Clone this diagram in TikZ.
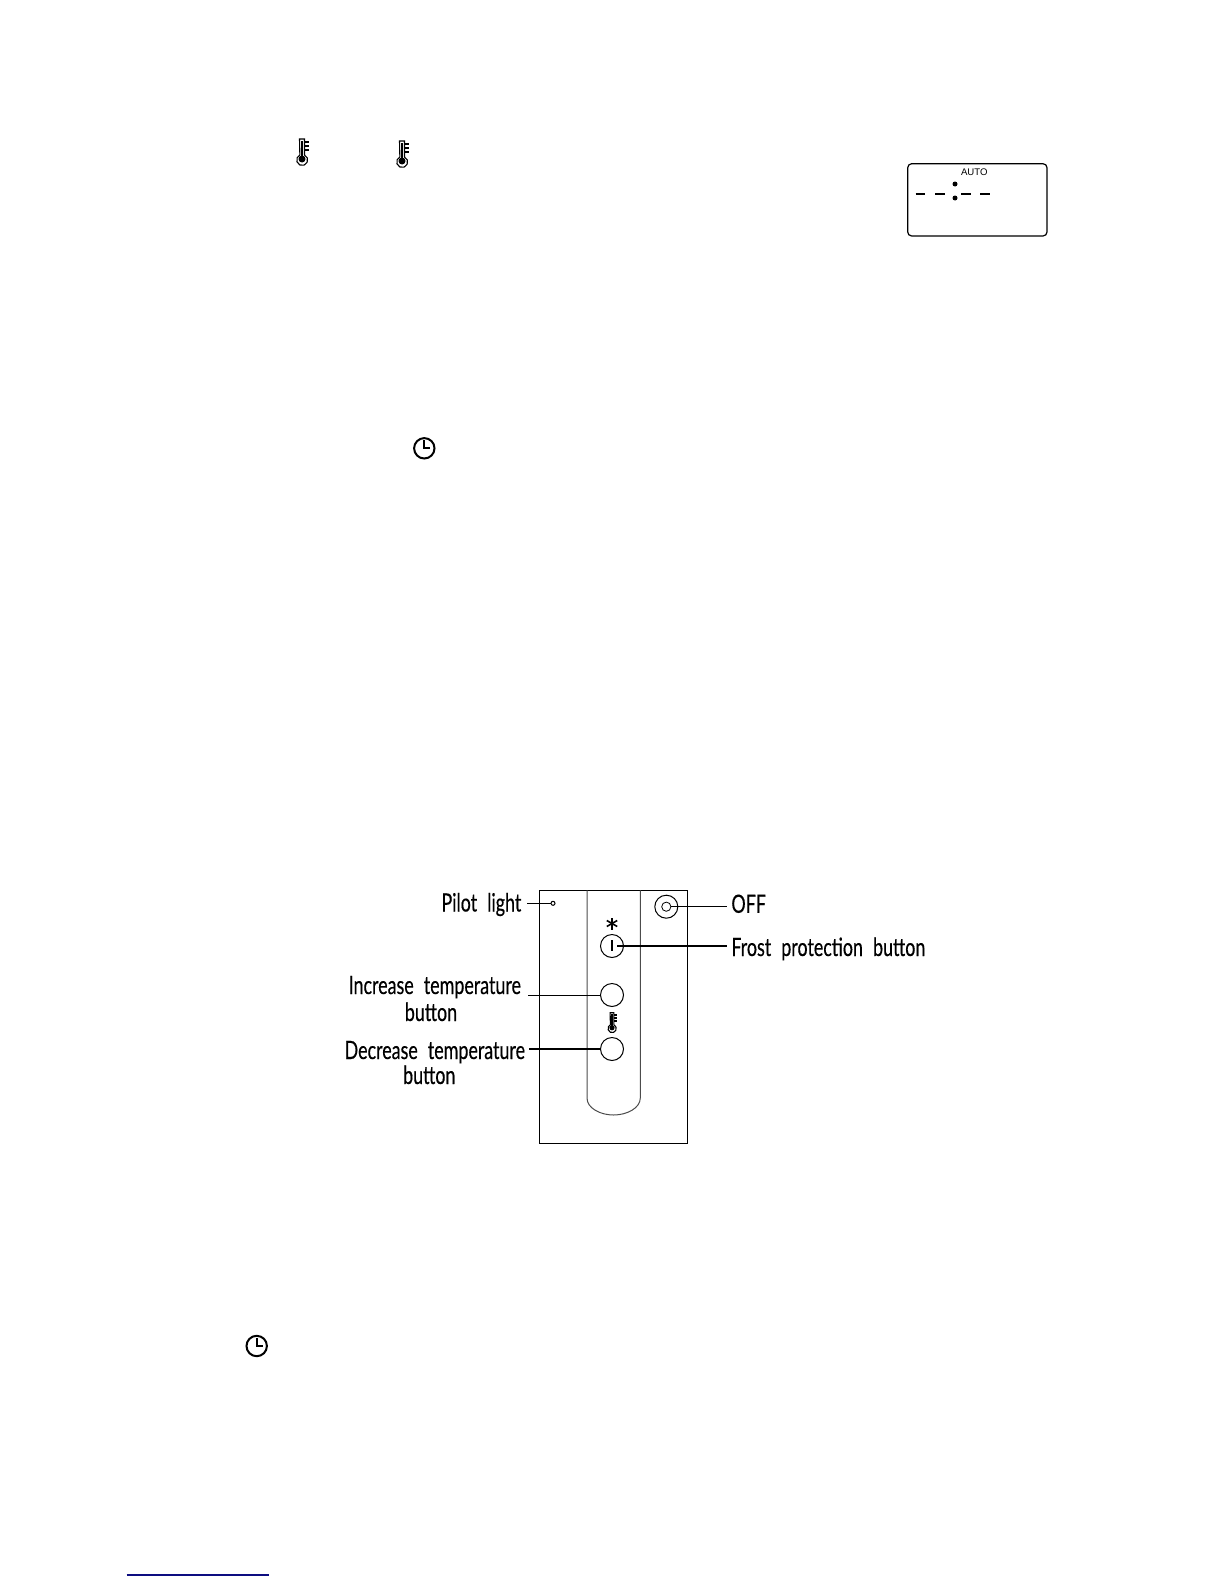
\documentclass[tikz,border=0pt]{standalone}
\usepackage{fontspec}
\setmainfont{Lato}[FakeStretch=0.71,WordSpace=2.2,FakeBold=0.35]
\newfontfamily\autofont{Liberation Sans}
\usepackage{xcolor}
\usepackage{tikz}
\definecolor{linkblue}{rgb}{0.05,0.05,0.5}
\tikzset{
	label text/.style = {inner sep=0pt,font=\fontsize{12.6}{14}\selectfont},
	push button/.style = {draw,circle,inner sep=0pt,minimum size=11.5pt,line width=0.5pt},
	lead/.style = {line width=0.5pt},
	heavy lead/.style = {line width=0.9pt},
	pics/thermo/.style = {
		code = {
			\draw[line width=0.55pt,fill=white] (-2.5,-13) -- (2.5,-13) -- (2.5,3) arc (-65:245:5.5) -- cycle;
			\fill (0,7) circle (3.5);
			\draw[line width=0.7pt] (0,-11) -- (0,5);
			\foreach \tickpos in {-10,-6,-2}
				\draw[line width=0.6pt] (2.5,\tickpos) -- (7,\tickpos);
		}
	},
	pics/clock/.style = {
		code = {
			\draw[line width=1pt] (0,0) circle (10.2);
			\draw[line width=1pt] (0,-8) -- (0,0) -- (6,0);
		}
	}
}

\begin{document}
\begin{tikzpicture}[x=0.5pt,y=-0.5pt]
	\useasboundingbox (0,0) rectangle (1224,1584);

	\pic at (302,152) {thermo};
	\pic at (402,154) {thermo};
	\pic at (424.3,448.3) {clock};
	\pic at (256.7,1346) {clock};

	\draw[line width=0.6pt,rounded corners=2pt] (907.7,163.7) rectangle (1047,236);
	\node[inner sep=0pt,font=\autofont\fontsize{4.8}{5}\selectfont] (auto) at (974.3,172) {AUTO};
	\foreach \dashleft in {915.7,935,961,980}
		\draw[line width=1.4pt] (\dashleft,194) -- ++(9.5,0);
	\fill (955,184) circle (2.5);
	\fill (955,198) circle (2.5);

	\draw[line width=0.5pt] (539.3,890.3) rectangle (687.3,1143.3);
	\draw[line width=0.5pt,black!70] (587,890.3) -- (587,1098) .. controls (587,1108) and (600,1115) .. (613.6,1115) .. controls (627,1115) and (640.3,1108) .. (640.3,1098) -- (640.3,890.3);

	\node[draw,circle,inner sep=0pt,minimum size=2pt,line width=0.5pt] (pilot) at (553,903.3) {};
	\node[push button] (offring) at (666.3,906.7) {};
	\node[draw,circle,inner sep=0pt,minimum size=4.6pt,line width=0.4pt] (off) at (666.3,906.7) {};
	\node[push button] (frost) at (612,946) {};
	\node[push button] (increase) at (612,995) {};
	\node[push button] (decrease) at (612,1049) {};
	\draw[line width=0.8pt] (612,940) -- (612,950.7);
	\foreach \starangle in {30,90,150}
		\draw[line width=0.8pt] (612,923.5) +(\starangle:6) -- +(\starangle+180:6);
	\pic[scale=0.75] at (612,1022.5) {thermo};

	\node[label text,anchor=base east] (pilotlabel) at (521.7,911.5) {Pilot light};
	\node[label text,anchor=base] (increaselabel) at (434.8,994) {Increase temperature};
	\node[label text,anchor=base] (increaselabelb) at (431,1021) {button};
	\node[label text,anchor=base] (decreaselabel) at (434.8,1059) {Decrease temperature};
	\node[label text,anchor=base] (decreaselabelb) at (429.3,1084) {button};
	\node[label text,anchor=base west] (offlabel) at (731,912.8) {OFF};
	\node[label text,anchor=base west] (frostlabel) at (731,956) {Frost protection button};

	\coordinate (pilotend) at (527,903.3);
	\coordinate (increaseend) at (528,995);
	\coordinate (decreaseend) at (529,1049);
	\coordinate (offend) at (726.7,906.7);
	\coordinate (frostend) at (726.7,946);
	\coordinate (frostin) at (616.7,946);
	\draw[lead] (pilotend) -- (pilot);
	\draw[lead] (increaseend) -- (increase);
	\draw[heavy lead] (decreaseend) -- (decrease);
	\draw[lead] (offend) -- (off);
	\draw[heavy lead] (frostend) -- (frostin);

	\coordinate (linkstart) at (126.7,1575);
	\coordinate (linkend) at (269,1575);
	\draw[linkblue,line width=0.6pt] (linkstart) -- (linkend);
\end{tikzpicture}
\end{document}
